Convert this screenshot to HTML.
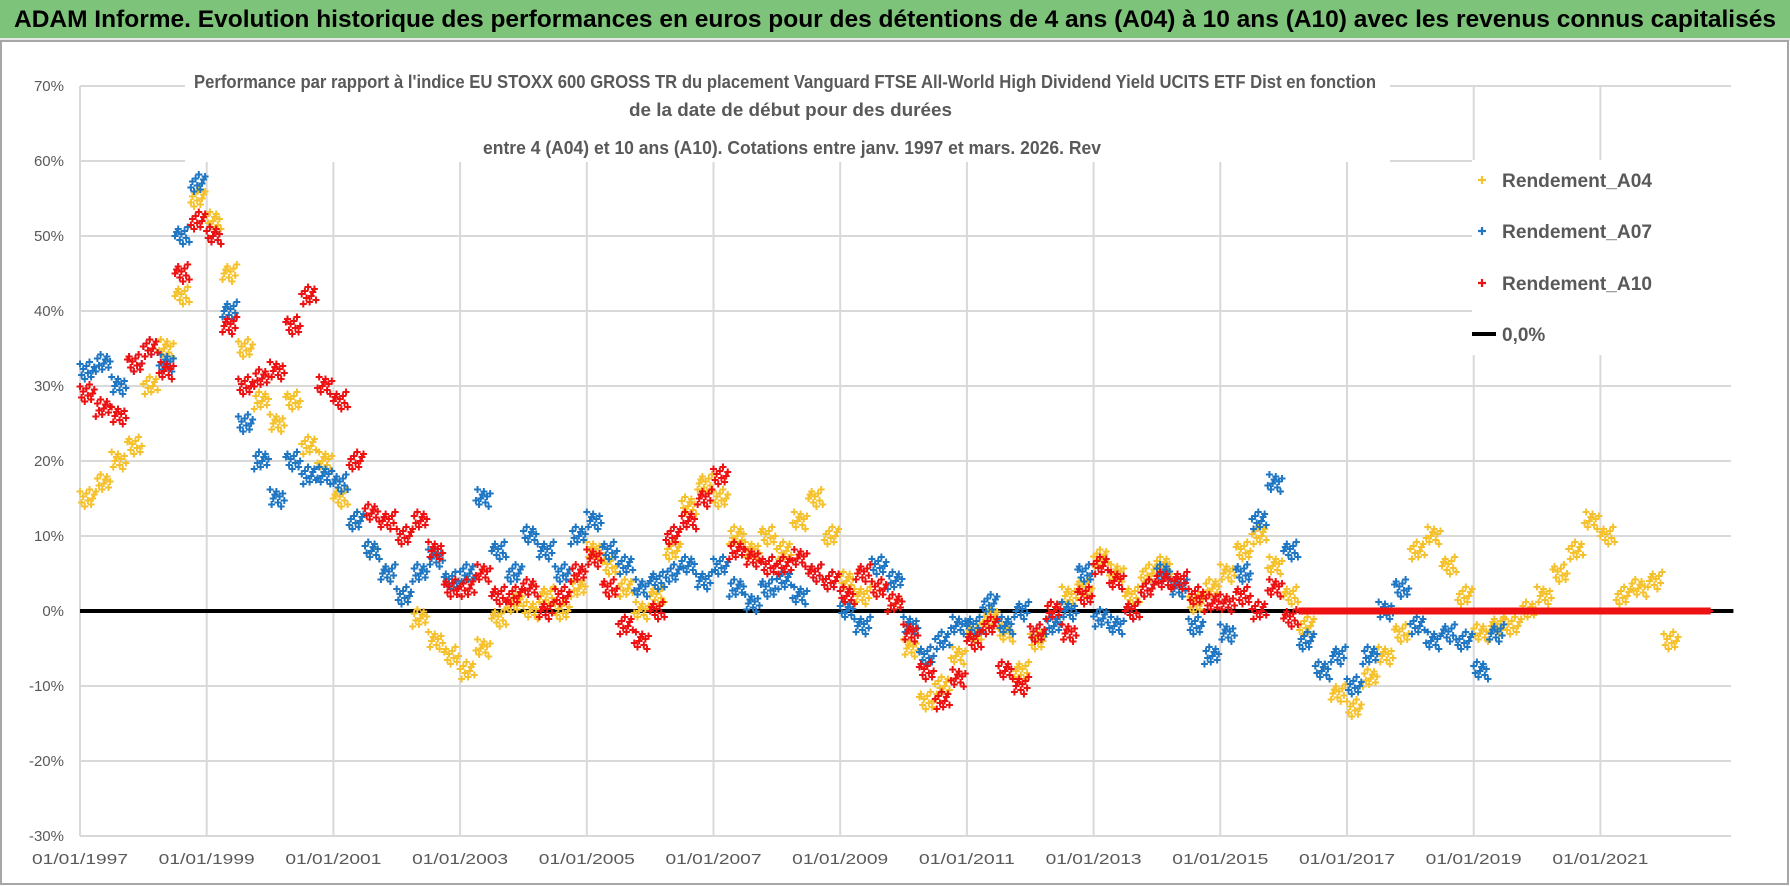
<!DOCTYPE html>
<html><head><meta charset="utf-8">
<style>
body{margin:0;background:#fff;}
#wrap{position:relative;width:1790px;height:886px;overflow:hidden;background:#fff;font-family:"Liberation Sans",sans-serif;}
#bar{position:absolute;left:0;top:0;width:1790px;height:38px;background:#7dc47a;border-bottom:3px solid #e6e6e6;}
</style></head><body>
<div id="wrap">
<div id="bar"></div>
<svg id="svg" width="1790" height="886" style="position:absolute;left:0;top:0"></svg>
</div>
<script>
const yTicks=[70,60,50,40,30,20,10,0,-10,-20,-30];
const xTickYears=[1997,1999,2001,2003,2005,2007,2009,2011,2013,2015,2017,2019,2021];
const startYear=1997, stepYear=0.25;
const a04=[15,17,20,22,30,35,42,55,52,45,35,28,25,28,22,20,15,12,8,5,2,-1,-4,-6,-8,-5,-1,1,0,2,0,3,8,6,3,0,2,8,14,17,15,10,8,10,8,12,15,10,4,2,3,1,-5,-12,-10,-6,-3,-1,-3,-8,-4,0,2,3,7,5,2,5,6,3,1,3,5,8,10,6,2,-2,-8,-11,-13,-9,-6,-3,8,10,6,2,-3,-2,-2,0,2,5,8,12,10,2,3,4,-4];
const a07=[32,33,30,33,35,33,50,57,50,40,25,20,15,20,18,18,17,12,8,5,2,5,7,4,5,15,8,5,10,8,5,10,12,8,6,3,4,5,6,4,6,3,1,3,4,2,5,4,0,-2,6,4,-2,-6,-4,-2,-2,1,-2,0,-3,-2,0,5,-1,-2,0,3,5,3,-2,-6,-3,5,12,17,8,-4,-8,-6,-10,-6,0,3,-2,-4,-3,-4,-8,-3];
const a10=[29,27,26,33,35,32,45,52,50,38,30,31,32,38,42,30,28,20,13,12,10,12,8,3,3,5,2,2,3,0,2,5,7,3,-2,-4,0,10,12,15,18,8,7,6,6,7,5,4,2,5,3,1,-3,-8,-12,-9,-4,-2,-8,-10,-3,0,-3,2,6,4,0,3,4,4,2,1,1,2,0,3,-1,0,0,0,0,0,0,0,0,0,0,0,0,0,0,0,0,0,0,0,0,0,0,0,0,0,0];
const seriesNames=["Rendement_A04","Rendement_A07","Rendement_A10"];
const seriesColors=["#f5c22e","#1f77c4","#ee1111"];
const seriesData=[a04,a07,a10];

const NS="http://www.w3.org/2000/svg";
const svg=document.getElementById('svg');
const L=80,R=1731,T=86,B=836;
const yMin=-30,yMax=70;
const Y=v=>B-(v-yMin)/(yMax-yMin)*(B-T);
const pxPerYear=126.7/2;
const X=yr=>L+(yr-1997)*pxPerYear;
const FF='Liberation Sans, sans-serif';
function mk(tag,attrs){const e=document.createElementNS(NS,tag);for(const k in attrs)e.setAttribute(k,attrs[k]);svg.appendChild(e);return e;}

let ht=mk('text',{x:14,y:27,'font-size':24,'font-weight':'bold',fill:'#000','font-family':FF,textLength:1762,lengthAdjust:'spacingAndGlyphs'});
ht.textContent='ADAM Informe. Evolution historique des performances en euros pour des détentions de 4 ans (A04) à 10 ans (A10) avec les revenus connus capitalisés';



let fr=mk('rect',{x:1,y:41,width:1787,height:843,fill:'none',stroke:'#a6a6a6','stroke-width':2});



yTicks.forEach(v=>{
 const g=mk('line',{x1:L,x2:R,y1:Y(v),y2:Y(v),stroke:'#d9d9d9','stroke-width':2});
 
 
 const t=mk('text',{x:64,y:Y(v)+5,'text-anchor':'end','font-size':15,fill:'#595959','font-family':FF});
 t.textContent=v+'%';
 
 
});
xTickYears.forEach(yr=>{
 const g=mk('line',{x1:X(yr),x2:X(yr),y1:T,y2:B,stroke:'#d9d9d9','stroke-width':2});
 
 
 const t=mk('text',{x:X(yr),y:864,'text-anchor':'middle','font-size':15,fill:'#595959','font-family':FF,textLength:96,lengthAdjust:'spacingAndGlyphs'});
 t.textContent='01/01/'+yr;
 
 
});
let lft=mk('line',{x1:L,x2:L,y1:T,y2:B,stroke:'#d9d9d9','stroke-width':2});



let tb=mk('rect',{x:185,y:66,width:1205,height:96,fill:'#fff'});


const titles=["Performance par rapport à l'indice EU STOXX 600 GROSS TR  du placement Vanguard FTSE All-World High Dividend Yield UCITS ETF Dist en fonction","de la date de début pour des durées","entre 4 (A04) et 10 ans (A10). Cotations entre janv. 1997 et mars. 2026. Rev"];
const tX=[194,629,483],tW=[1182,323,618],tY=[88,116,154];
titles.forEach((s,i)=>{
 const t=mk('text',{x:tX[i],y:tY[i],'font-size':18,'font-weight':'bold',fill:'#595959','font-family':FF,textLength:tW[i],lengthAdjust:'spacingAndGlyphs'});
 t.textContent=s;
 
 
});

let zl=mk('line',{x1:L,x2:X(2023.1),y1:Y(0),y2:Y(0),stroke:'#000','stroke-width':4});



function plusPath(cx,cy,s){return `M${cx-s},${cy}H${cx+s}M${cx},${cy-s}V${cy+s}`;}
const qW=stepYear*pxPerYear;
const jit=[-7,4,-2,8,-5,2,-9,6,0,-4];
seriesData.forEach((arr,si)=>{
 arr.forEach((v,i)=>{
  const x0=X(startYear+i*stepYear), y=Y(v);
  const flat=(v===0&&si===2&&i>76);
  let d='';
  for(let k=0;k<10;k++){d+=plusPath(x0+k*qW/10,y+(flat?0:jit[(k+i*3)%10]),3.5);}
  const p=mk('path',{d:d,stroke:seriesColors[si],'stroke-width':2,fill:'none'});
  
  
 });
});

let lg=mk('rect',{x:1472,y:160,width:262,height:195,fill:'#fff'});


const legY=[180,231,283,334];
seriesNames.forEach((n,i)=>{
 const m=mk('path',{d:plusPath(1482,legY[i],4),stroke:seriesColors[i],'stroke-width':2.2});
 
 
 const t=mk('text',{x:1502,y:legY[i]+7,'font-size':19,'font-weight':'bold',fill:'#595959','font-family':FF,textLength:150,lengthAdjust:'spacingAndGlyphs'});
 t.textContent=n;
 
 
});
let ll=mk('line',{x1:1472,x2:1496,y1:legY[3],y2:legY[3],stroke:'#000','stroke-width':4});


let lt=mk('text',{x:1502,y:legY[3]+7,'font-size':19,'font-weight':'bold',fill:'#595959','font-family':FF});
lt.textContent='0,0%';


</script>
</body></html>
